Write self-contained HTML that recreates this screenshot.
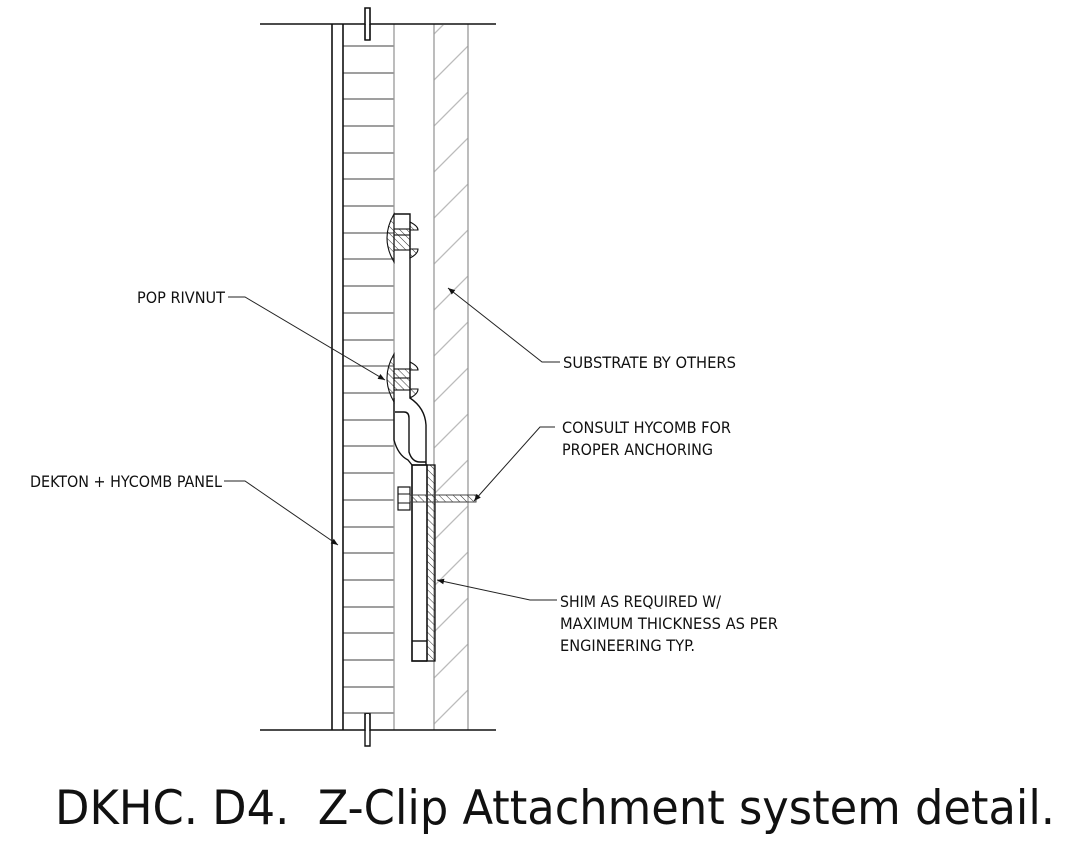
<!DOCTYPE html>
<html><head><meta charset="utf-8"><style>
html,body{margin:0;padding:0;background:#fff;}
svg{display:block;}
text{font-family:"DejaVu Sans Condensed","Liberation Sans",sans-serif;fill:#111;}
</style></head><body>
<svg width="1074" height="853" viewBox="0 0 1074 853" xmlns="http://www.w3.org/2000/svg">
<defs>
<pattern id="h" width="5" height="5" patternUnits="userSpaceOnUse" patternTransform="rotate(-45)">
<line x1="0" y1="0" x2="0" y2="5" stroke="#333" stroke-width="1"/></pattern>
<pattern id="sub" x="434" y="0" width="34" height="46" patternUnits="userSpaceOnUse">
<line x1="0" y1="34" x2="34" y2="0" stroke="#bbb" stroke-width="1.3"/></pattern>
<marker id="a" viewBox="0 0 10 10" refX="10" refY="5" markerWidth="9" markerHeight="7" orient="auto" markerUnits="userSpaceOnUse">
<path d="M0,1 L10,5 L0,9 z" fill="#111"/></marker>
</defs>
<rect x="434" y="25" width="34" height="705" fill="url(#sub)"/>
<g stroke="#666" stroke-width="1.2">
<line x1="343" y1="46" x2="394" y2="46"/><line x1="343" y1="73" x2="394" y2="73"/>
<line x1="343" y1="99" x2="394" y2="99"/><line x1="343" y1="126" x2="394" y2="126"/>
<line x1="343" y1="153" x2="394" y2="153"/><line x1="343" y1="179" x2="394" y2="179"/>
<line x1="343" y1="206" x2="394" y2="206"/><line x1="343" y1="233" x2="394" y2="233"/>
<line x1="343" y1="259" x2="394" y2="259"/><line x1="343" y1="286" x2="394" y2="286"/>
<line x1="343" y1="313" x2="394" y2="313"/><line x1="343" y1="340" x2="394" y2="340"/>
<line x1="343" y1="366" x2="394" y2="366"/><line x1="343" y1="393" x2="394" y2="393"/>
<line x1="343" y1="420" x2="394" y2="420"/><line x1="343" y1="446" x2="394" y2="446"/>
<line x1="343" y1="473" x2="394" y2="473"/><line x1="343" y1="500" x2="394" y2="500"/>
<line x1="343" y1="527" x2="394" y2="527"/><line x1="343" y1="553" x2="394" y2="553"/>
<line x1="343" y1="580" x2="394" y2="580"/><line x1="343" y1="607" x2="394" y2="607"/>
<line x1="343" y1="633" x2="394" y2="633"/><line x1="343" y1="660" x2="394" y2="660"/>
<line x1="343" y1="687" x2="394" y2="687"/><line x1="343" y1="713" x2="394" y2="713"/>
</g>
<g stroke="#999" stroke-width="1.3">
<line x1="394" y1="24" x2="394" y2="730"/><line x1="434" y1="24" x2="434" y2="730"/><line x1="468" y1="24" x2="468" y2="730"/>
</g>
<g stroke="#111" stroke-width="1.6" fill="none">
<line x1="332" y1="24" x2="332" y2="730"/><line x1="343" y1="24" x2="343" y2="730"/>
<path d="M260,24 H365 V8 H370 V24 H496"/>
<path d="M260,730 H365 V714 H370 V730 H496"/>
<path d="M365,24 V40 H370 V24" stroke-width="1.4"/>
<path d="M365,730 V746 H370 V730" stroke-width="1.4"/>
</g>
<rect x="366" y="25" width="3" height="14" fill="#fff"/>
<rect x="366" y="714" width="3" height="15" fill="#fff"/>
<line x1="365" y1="24" x2="365" y2="40" stroke="#111" stroke-width="1.4"/>
<line x1="370" y1="24" x2="370" y2="40" stroke="#111" stroke-width="1.4"/>
<g stroke="#111" stroke-width="1.4" fill="none">
<path d="M394,214 H410 V398 Q425,408 426,425 V465 H412 V661 H427"/>
<path d="M394,398 V440 Q398,455 408,460 L412,465"/>
<path d="M395,412 H404 Q409,412 409,418 V452 Q412,462 420,462 H426"/>
<rect x="412" y="465" width="15" height="196"/>
<line x1="412" y1="641" x2="427" y2="641"/>
</g>
<rect x="427" y="465" width="8" height="196" fill="url(#h)" stroke="#111" stroke-width="1.3"/>
<g stroke="#111" stroke-width="1.1">
<path d="M394,214 Q380,238 394,262 Z" fill="url(#h)"/>
<path d="M410,222 Q418,226 418,230 H410 Z" fill="url(#h)"/>
<path d="M410,258 Q418,254 418,249 H410 Z" fill="url(#h)"/>
<rect x="394" y="229" width="16" height="21" fill="url(#h)"/>
<line x1="394" y1="235" x2="410" y2="235"/>
<path d="M394,354 Q380,378 394,402 Z" fill="url(#h)"/>
<path d="M410,362 Q418,366 418,370 H410 Z" fill="url(#h)"/>
<path d="M410,398 Q418,394 418,389 H410 Z" fill="url(#h)"/>
<rect x="394" y="369" width="16" height="21" fill="url(#h)"/>
<line x1="394" y1="378" x2="410" y2="378"/>
</g>
<rect x="398" y="487" width="12" height="23" fill="#fff" stroke="#111" stroke-width="1.2"/>
<line x1="398" y1="494" x2="410" y2="494" stroke="#111"/><line x1="398" y1="503" x2="410" y2="503" stroke="#111"/>
<rect x="410" y="495" width="66" height="7" fill="url(#h)" stroke="#444" stroke-width="1"/>
<g stroke="#222" stroke-width="1" fill="none" marker-end="url(#a)">
<path d="M228,297 H245 L385,380"/>
<path d="M224,481 H245 L338,545"/>
<path d="M560,362 H542 L448,288"/>
<path d="M555,427 H540 L474,501"/>
<path d="M557,600 H530 L437,580"/>
</g>
<g font-size="16">
<text x="137" y="303" textLength="88" lengthAdjust="spacingAndGlyphs">POP RIVNUT</text>
<text x="30" y="487" textLength="192" lengthAdjust="spacingAndGlyphs">DEKTON + HYCOMB PANEL</text>
<text x="563" y="368" textLength="173" lengthAdjust="spacingAndGlyphs">SUBSTRATE BY OTHERS</text>
<text x="562" y="433" textLength="169" lengthAdjust="spacingAndGlyphs">CONSULT HYCOMB FOR</text>
<text x="562" y="455" textLength="151" lengthAdjust="spacingAndGlyphs">PROPER ANCHORING</text>
<text x="560" y="607" textLength="161" lengthAdjust="spacingAndGlyphs">SHIM AS REQUIRED W/</text>
<text x="560" y="629" textLength="218" lengthAdjust="spacingAndGlyphs">MAXIMUM THICKNESS AS PER</text>
<text x="560" y="651" textLength="135" lengthAdjust="spacingAndGlyphs">ENGINEERING TYP.</text>
</g>
<text x="55" y="824" font-size="47" textLength="1000" lengthAdjust="spacingAndGlyphs" xml:space="preserve">DKHC. D4.  Z-Clip Attachment system detail.</text>
</svg>
</body></html>
